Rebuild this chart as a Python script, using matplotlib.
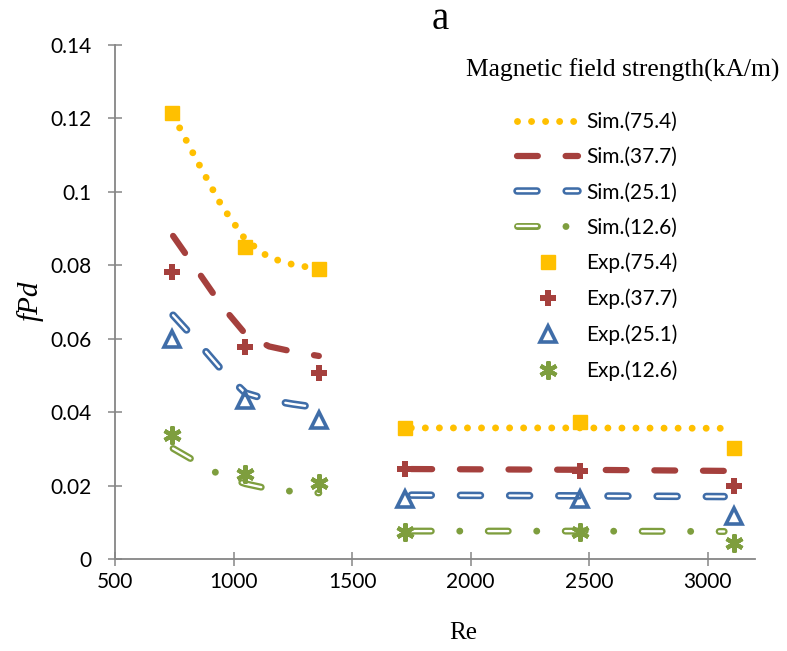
import matplotlib
matplotlib.use("Agg")
import matplotlib.pyplot as plt
import numpy as np

plt.rcParams['lines.scale_dashes'] = False

# experimental points
re_exp = [740, 1050, 1360, 1725, 2460, 3110]
exp_754 = [0.1215, 0.085, 0.079, 0.0357, 0.0373, 0.0302]
exp_377 = [0.0782, 0.0578, 0.0507, 0.0245, 0.0240, 0.0199]
exp_251 = [0.0599, 0.0433, 0.0379, 0.0163, 0.0163, 0.0117]
exp_126 = [0.0338, 0.0232, 0.0207, 0.0074, 0.0074, 0.0044]

# simulation curves, low Re part
re_sim_lo = [745, 850, 950, 1050, 1150, 1250, 1360]
sim_754_lo = [0.1208, 0.1080, 0.0962, 0.0870, 0.0821, 0.0802, 0.0790]
sim_377_lo = [0.0880, 0.0783, 0.0690, 0.0613, 0.0579, 0.0565, 0.0553]
sim_251_lo = [0.0664, 0.0590, 0.0515, 0.0452, 0.0433, 0.0422, 0.0412]
sim_126_lo = [0.0301, 0.0262, 0.0227, 0.0205, 0.0191, 0.0184, 0.0180]

# simulation curves, high Re part
re_sim_hi = [1750, 2460, 3070]
sim_754_hi = [0.0357, 0.0357, 0.0356]
sim_377_hi = [0.0245, 0.0243, 0.0240]
sim_251_hi = [0.0174, 0.0172, 0.0170]
sim_126_hi = [0.0076, 0.0076, 0.0075]

c_yel = '#FFC000'
c_red = '#A5403D'
c_blu = '#3F6DA8'
c_grn = '#7E9E3E'
grey = '#868686'

fig = plt.figure(figsize=(7.87, 6.51), dpi=100)
ax = fig.add_axes([115/787, 1-559/651, 640/787, 514/651])

def sim(x, y, color, kind):
    h = None
    if kind == 'dot':
        l, = ax.plot(x, y, color=color, lw=5.0, dashes=(0.01, 10.1),
                     dash_capstyle='round', solid_capstyle='round')
        h = l
    elif kind == 'dash':
        l, = ax.plot(x, y, color=color, lw=4.5, dashes=(15, 20),
                     dash_capstyle='round')
        h = l
    elif kind == 'hollow':
        l1, = ax.plot(x, y, color=color, lw=5.4, dashes=(14.4, 21),
                      dash_capstyle='round')
        l2, = ax.plot(x, y, color='white', lw=1.7, dashes=(14.4, 21),
                      dash_capstyle='round')
        h = (l1, l2)
    elif kind == 'hollowdot':
        l1, = ax.plot(x, y, color=color, lw=5.0, dashes=(14.4, 20.5, 0.01, 20.5),
                      dash_capstyle='round')
        l2, = ax.plot(x, y, color='white', lw=1.7, dashes=(14.4, 41),
                      dash_capstyle='round')
        h = (l1, l2)
    return h

h1 = sim(re_sim_lo, sim_754_lo, c_yel, 'dot')
sim(re_sim_hi, sim_754_hi, c_yel, 'dot')
h2 = sim(re_sim_lo, sim_377_lo, c_red, 'dash')
sim(re_sim_hi, sim_377_hi, c_red, 'dash')
h3 = sim(re_sim_lo, sim_251_lo, c_blu, 'hollow')
sim(re_sim_hi, sim_251_hi, c_blu, 'hollow')
h4 = sim(re_sim_lo, sim_126_lo, c_grn, 'hollowdot')
sim(re_sim_hi, sim_126_hi, c_grn, 'hollowdot')

m1, = ax.plot(re_exp, exp_754, ls='none', marker='s', ms=9.5, color=c_yel, mec=c_yel)
m2, = ax.plot(re_exp, exp_377, ls='none', marker='P', ms=11, color=c_red, mec=c_red, mew=0)
m3, = ax.plot(re_exp, exp_251, ls='none', marker='^', ms=11.5, mfc='none', mec=c_blu, mew=2.6)
m4, = ax.plot(re_exp, exp_126, ls='none', marker=(6, 2, 0), ms=13, color=c_grn, mec=c_grn, mew=3)

ax.set_xlim(500, 3200)
ax.set_ylim(0, 0.14)
ax.set_xticks(np.arange(500, 3001, 500))
ax.set_yticks(np.arange(0, 0.141, 0.02))
ax.set_yticklabels(['0', '0.02', '0.04', '0.06', '0.08', '0.1', '0.12', '0.14'])

for s in ['top', 'right']:
    ax.spines[s].set_visible(False)
for s in ['left', 'bottom']:
    ax.spines[s].set_color(grey)
    ax.spines[s].set_linewidth(1.3)
ax.tick_params(direction='inout', length=10, width=1.1, color=grey,
               labelsize=15, labelfontfamily='Lato')
ax.tick_params(axis='y', pad=12)
ax.tick_params(axis='x', pad=4)

ax.set_xlabel('Re', family='Liberation Serif', fontsize=18, va='center')
ax.xaxis.set_label_coords((463-115)/640, -(633-559)/514)
ax.set_ylabel('fPd', family='Liberation Serif', style='italic', fontsize=21,
              va='center', ha='center')
ax.yaxis.set_label_coords((30-115)/640, (559-301)/514)

fig.text(440/787, 1-29/651, 'a', family='Liberation Serif', fontsize=28,
         ha='center', va='baseline')
fig.text(466/787, 1-77/651, 'Magnetic field strength(kA/m)',
         family='Liberation Serif', fontsize=18.4, ha='left', va='baseline')

labels = ['Sim.(75.4)', 'Sim.(37.7)', 'Sim.(25.1)', 'Sim.(12.6)',
          'Exp.(75.4)', 'Exp.(37.7)', 'Exp.(25.1)', 'Exp.(12.6)']
leg = fig.legend([h1, h2, h3, h4, m1, m2, m3, m4], labels,
                 loc='upper left', bbox_to_anchor=(517/787, 1-112/651),
                 frameon=False, borderpad=0, borderaxespad=0,
                 prop={'family': 'Lato', 'size': 15},
                 handlelength=2.93, handletextpad=0.38, labelspacing=0.73,
                 numpoints=1)

fig.savefig('out.png', dpi=100)
